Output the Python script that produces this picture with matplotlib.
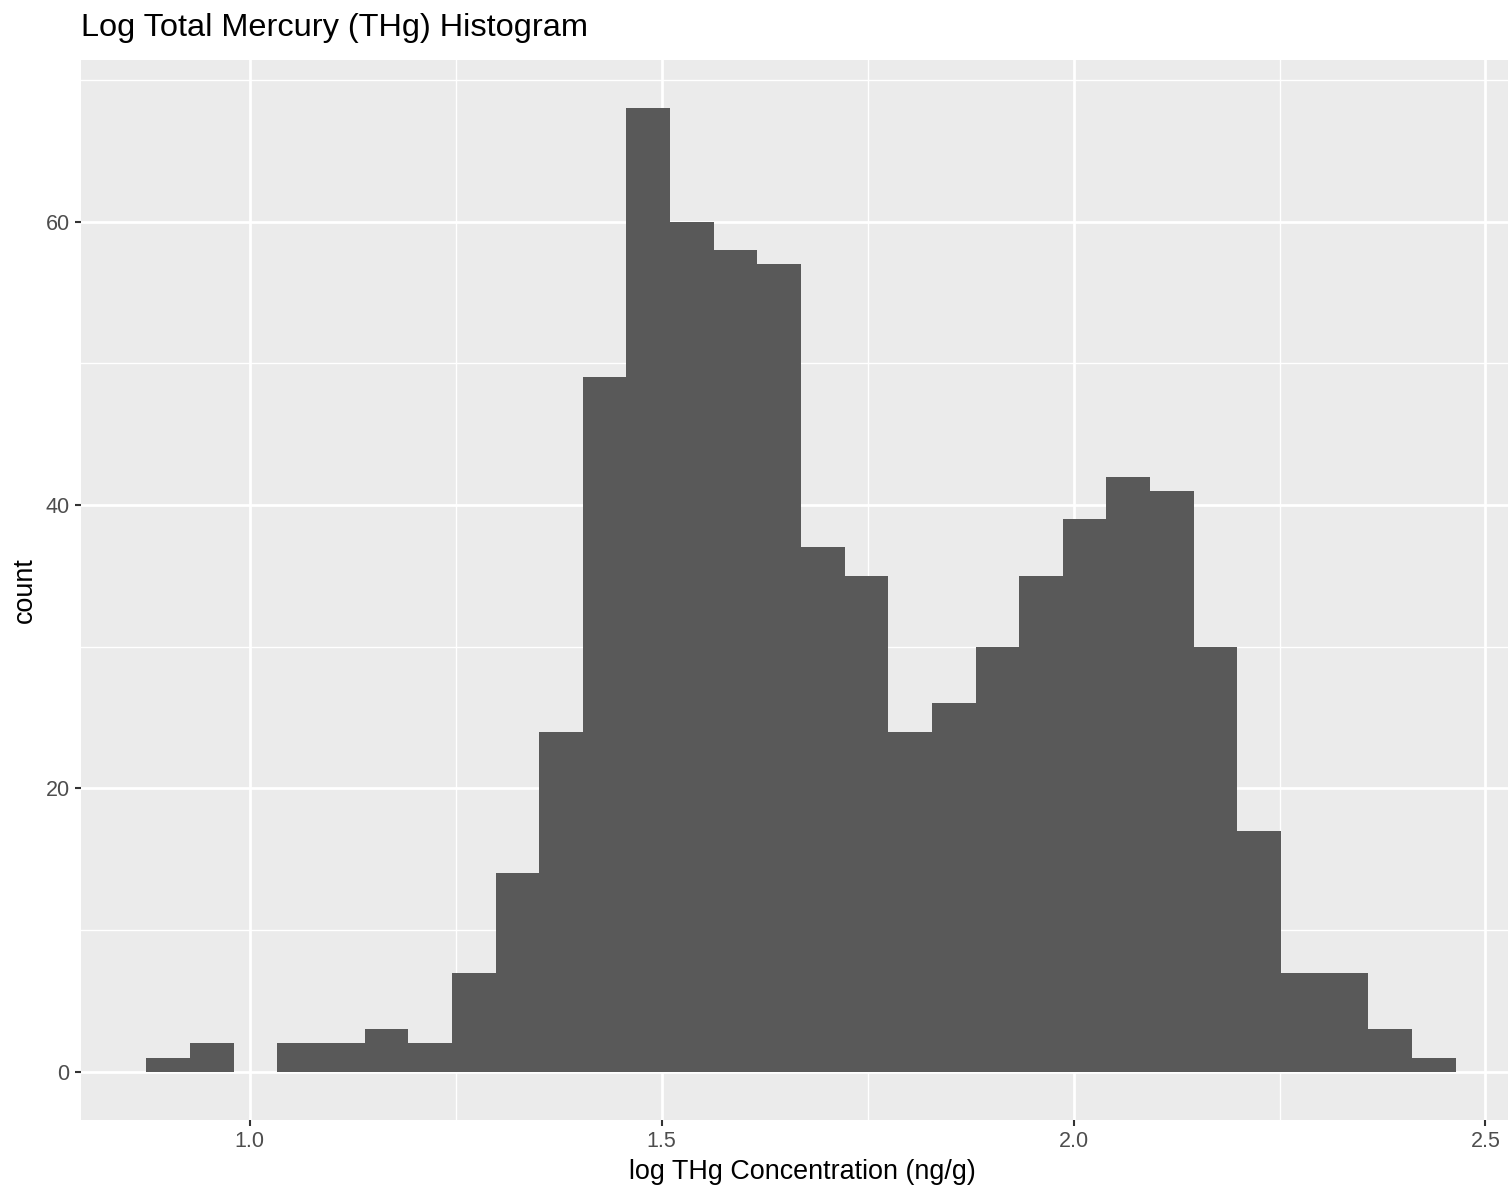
import matplotlib.pyplot as plt
import numpy as np

plt.rcParams['font.family'] = ['Liberation Sans', 'DejaVu Sans']

# histogram counts (30 bins)
counts = [1, 2, 0, 2, 2, 3, 2, 7, 14, 24,
          49, 68, 60, 58, 57, 37, 35, 24, 26, 30,
          35, 39, 42, 41, 30, 17, 7, 7, 3, 1]
first_edge = 0.8745
last_edge = 2.4637
xticks = [1.0, 1.5, 2.0, 2.5]
xtick_labels = ['1.0', '1.5', '2.0', '2.5']
yticks = [0, 20, 40, 60]

edges = np.linspace(first_edge, last_edge, len(counts) + 1)
widths = np.diff(edges)

W, H = 1508, 1191
fig = plt.figure(figsize=(W / 100, H / 100), dpi=100)
# panel runs past the right edge like in the reference
ax = fig.add_axes([81 / W, 1 - 1120 / H, (1521 - 81) / W, (1120 - 60) / H])
ax.set_facecolor('#EBEBEB')

# ggplot-ish expansion of 5%
span = last_edge - first_edge
ax.set_xlim(first_edge - 0.05 * span, last_edge + 0.05 * span)
top = max(counts)
ax.set_ylim(-0.05 * top, 1.05 * top)

ax.set_xticks(xticks)
ax.set_xticklabels(xtick_labels)
ax.set_yticks(yticks)
ax.set_xticks([1.25, 1.75, 2.25], minor=True)
ax.set_yticks([10, 30, 50, 70], minor=True)

ax.grid(which='major', color='white', linewidth=2.0)
ax.grid(which='minor', color='white', linewidth=1.0)
ax.set_axisbelow(True)

ax.bar(edges[:-1], counts, width=widths, align='edge', color='#595959',
       linewidth=0)

for s in ax.spines.values():
    s.set_visible(False)

ax.tick_params(which='major', length=4.2, width=1.5, color='#333333',
               labelcolor='#4D4D4D', labelsize=15.5, pad=4)
ax.tick_params(which='minor', length=0)

ax.set_xlabel('log THg Concentration (ng/g)', fontsize=19.4, color='black')
ax.set_ylabel('count', fontsize=19.4, color='black')
fig.text(81 / W, 1 - 28 / H, 'Log Total Mercury (THg) Histogram',
         fontsize=23.4, ha='left', va='center')
# label positions in axes fraction, matched to the reference pixels
pw, ph = 1521 - 81, 1120 - 60
ax.xaxis.set_label_coords((802 - 81) / pw, -(1172 - 1120) / ph)
ax.yaxis.set_label_coords(-(81 - 25) / pw, 0.5)
ax.xaxis.label.set_va('center')
ax.yaxis.label.set_va('center')

fig.savefig('out.png', dpi=100)
